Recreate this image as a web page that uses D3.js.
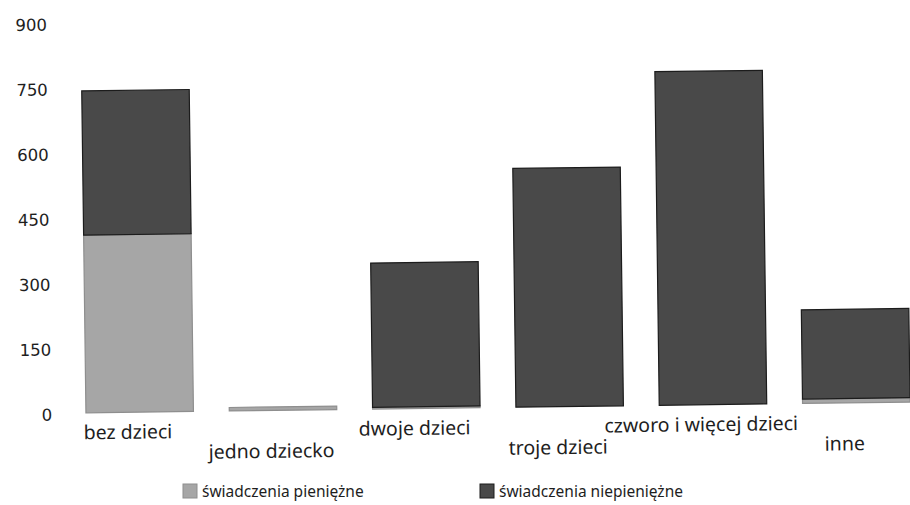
<!DOCTYPE html>
<html>
<head>
<meta charset="utf-8">
<script src="https://cdn.jsdelivr.net/npm/d3@7"></script>
<style>
  html, body { margin: 0; padding: 0; background: #fff; }
  svg { display: block; }
</style>
</head>
<body>
<script>
// ---- data ----
const categories = ["bez dzieci", "jedno dziecko", "dwoje dzieci", "troje dzieci", "czworo i więcej dzieci", "inne"];
const pieniezne = [410, 8, 4, 0, 0, 10];
const niepieniezne = [333, 0, 333, 551, 770, 206];
const yTicks = [0, 150, 300, 450, 600, 750, 900];
const seriesNames = ["świadczenia pieniężne", "świadczenia niepieniężne"];

// ---- build table ----
const keys = ["pien", "niepien"];
const table = categories.map((c, i) => ({ cat: c, pien: pieniezne[i], niepien: niepieniezne[i] }));
const stacked = d3.stack().keys(keys)(table);

const W = 910, H = 505;
const svg = d3.select("body").append("svg").attr("width", W).attr("height", H);

const colors = { pien: "#a6a6a6", niepien: "#494949" };
const strokes = { pien: "#8e8e8e", niepien: "#1c1c1c" };

const x = d3.scaleBand().domain(categories).range([68, 928]).paddingInner(0.25).paddingOuter(0.125);
const y = d3.scaleLinear().domain([0, 900]).range([408, 18]);

// scanned page is slightly tilted
const g = svg.append("g").attr("transform", "rotate(-0.75, 455, 408)");

// bars
g.selectAll("g.series").data(stacked).join("g")
  .attr("class", "series")
  .attr("fill", d => colors[d.key])
  .attr("stroke", d => strokes[d.key])
  .attr("stroke-width", 1.2)
  .selectAll("rect").data(d => d.filter(s => s[1] - s[0] > 0)).join("rect")
  .attr("x", d => x(d.data.cat))
  .attr("width", x.bandwidth())
  .attr("y", d => y(d[1]))
  .attr("height", d => y(d[0]) - y(d[1]));

// y axis (labels only)
const yAxis = d3.axisLeft(y).tickValues(yTicks).tickSize(0).tickPadding(0).tickFormat(d3.format("d"));
const ya = g.append("g").attr("transform", "translate(52,0)").call(yAxis);
ya.select(".domain").remove();
ya.selectAll("text")
  .attr("font-family", "'DejaVu Sans', sans-serif")
  .attr("font-size", 16.5)
  .attr("fill", "#1e1e1e")
  .attr("dy", "0.41em");

// category labels (staggered)
g.append("g").selectAll("text").data(categories).join("text")
  .attr("x", d => x(d) + x.bandwidth() / 2 - 12)
  .attr("y", (d, i) => y(0) + (i % 2 === 0 ? 26.5 : 47.5))
  .attr("text-anchor", "middle")
  .attr("font-family", "'Noto Sans', sans-serif")
  .attr("font-size", 19.5)
  .attr("fill", "#1e1e1e")
  .text(d => d);

// legend
const legendX = [183, 480];
const leg = svg.append("g");
const li = leg.selectAll("g").data(keys).join("g")
  .attr("transform", (d, i) => `translate(${legendX[i]},484)`);
li.append("rect")
  .attr("width", 14).attr("height", 14)
  .attr("fill", d => colors[d])
  .attr("stroke", d => strokes[d]).attr("stroke-width", 1);
li.append("text")
  .attr("x", 19).attr("y", 13)
  .attr("font-family", "'Noto Sans', sans-serif")
  .attr("font-size", 15.5)
  .attr("fill", "#1e1e1e")
  .text((d, i) => seriesNames[i]);
</script>
</body>
</html>
